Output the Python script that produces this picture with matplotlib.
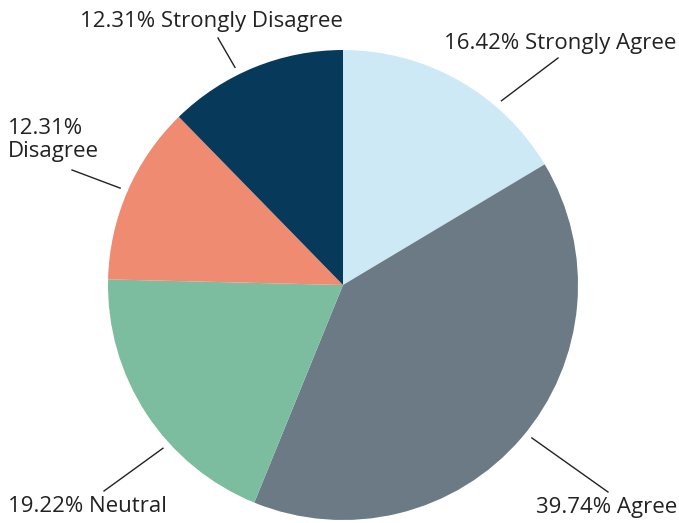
import numpy as np
import matplotlib.pyplot as plt

labels = ["Strongly Agree", "Agree", "Neutral", "Disagree", "Strongly Disagree"]
values = [16.42, 39.74, 19.22, 12.31, 12.31]
colors = ["#cde9f5", "#6c7a85", "#7dbd9f", "#ee8b71", "#073a5a"]

# leader line: (angle deg, end x, end y) in pixel-ish coords, y measured up
leaders = [(49.3, 558, 465), (-39.0, 608, 31), (222.2, 104, 32), (156.5, 72, 353), (116.4, 218, 485)]
texts = [(676, 479, "right", "16.42% Strongly Agree"),
         (677, 16, "right", "39.74% Agree"),
         (8, 16, "left", "19.22% Neutral"),
         (8, 383, "left", "12.31%\nDisagree"),
         (211, 502, "center", "12.31% Strongly Disagree")]

plt.rcParams['font.family'] = ['Open Sans', 'DejaVu Sans']

fig = plt.figure(figsize=(6.79, 5.23), dpi=100)
ax = fig.add_axes([0, 0, 1, 1])
cx, cy, r = 343, 238, 235
ax.pie(values, colors=colors, startangle=90, counterclock=False,
       center=(cx, cy), radius=r, frame=True)
ax.set_xlim(0, 679)
ax.set_ylim(0, 523)
ax.set_aspect('equal')
ax.axis('off')

for (ang, ex, ey), (tx, ty, ha, s) in zip(leaders, texts):
    a = np.radians(ang)
    sx, sy = cx + 243 * np.cos(a), cy + 243 * np.sin(a)
    ax.plot([sx, ex], [sy, ey], color="#222222", lw=1)
    ax.text(tx, ty, s, ha=ha, va="center", fontsize=16, color="#222222", linespacing=1.15)

fig.savefig("out.png", dpi=100)
